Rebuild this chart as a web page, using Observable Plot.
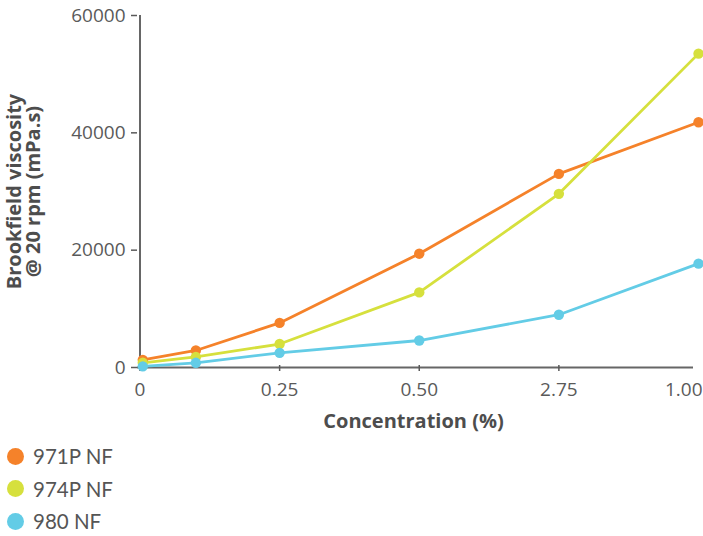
<!DOCTYPE html>
<html>
<head>
<meta charset="utf-8">
<script src="https://cdn.jsdelivr.net/npm/d3@7"></script>
<script src="https://cdn.jsdelivr.net/npm/@observablehq/plot@0.6"></script>
<style>
  body { margin: 0; background: #fff; font-family: Lato, "Open Sans", sans-serif; }
  .row { display: flex; align-items: center; height: 32.5px; color: #555; font-size: 20.5px; }
  .sw { width: 17px; height: 17px; border-radius: 50%; margin-left: 6.5px; margin-right: 9.5px; }
</style>
</head>
<body>
<div id="chart"></div>
<div id="legend"></div>
<script>
const concentration = [0.005, 0.1, 0.25, 0.5, 0.75, 1.0];
const seriesNames = ["971P NF", "974P NF", "980 NF"];
const v971P = [1300, 2900, 7600, 19400, 33000, 41800];
const v974P = [800, 1800, 4000, 12800, 29600, 53500];
const v980 = [200, 800, 2500, 4600, 9000, 17700];
const colors = ["#F5822A", "#D6E03D", "#63CCE6"];
const xTicks = [0, 0.25, 0.5, 0.75, 1.0];
const xTickLabels = ["0", "0.25", "0.50", "2.75", "1.00"];
const yTicks = [0, 20000, 40000, 60000];
const yTickLabels = ["0", "20000", "40000", "60000"];

const allValues = [v971P, v974P, v980];
const data = [];
seriesNames.forEach((s, si) => {
  concentration.forEach((c, i) => data.push({series: s, c, v: allValues[si][i]}));
});

const tickFont = "'Open Sans', Lato, sans-serif";
const plot = Plot.plot({
  width: 703,
  height: 440,
  marginLeft: 137,
  marginRight: 10,
  marginTop: 13,
  marginBottom: 75,
  style: {fontFamily: tickFont, fontSize: "19px", color: "#5a5a5a", background: "#fff"},
  x: {domain: [0, 1.0], range: [139.5, 698]},
  y: {domain: [0, 60000], range: [367, 15]},
  color: {domain: seriesNames, range: colors},
  marks: [
    Plot.ruleY([0], {stroke: "#666", strokeWidth: 2}),
    Plot.ruleX([0], {y1: 0, y2: 60000, stroke: "#666", strokeWidth: 2}),
    Plot.axisY({ticks: yTicks, tickFormat: d => yTickLabels[yTicks.indexOf(d)], tickSize: 6, tickPadding: 6, label: null, fontSize: 19, strokeWidth: 1.5}),
    Plot.axisX({ticks: xTicks.slice(0, 4), tickFormat: d => xTickLabels[xTicks.indexOf(d)], tickSize: 6, tickPadding: 11, label: null, fontSize: 19, strokeWidth: 1.5}),
    Plot.axisX({ticks: xTicks.slice(4), tickFormat: d => xTickLabels[xTicks.indexOf(d)], tickSize: 0, tickPadding: 17, textAnchor: "end", dx: 4, label: null, fontSize: 19}),
    Plot.line(data, {x: "c", y: "v", stroke: "series", strokeWidth: 2.8, z: "series"}),
    Plot.dot(data, {x: "c", y: "v", fill: "series", r: 5.2}),
    Plot.text(["Concentration (%)"], {frameAnchor: "bottom", textAnchor: "middle", lineAnchor: "middle", dy: 56, dx: -2, fontWeight: "bold", fontSize: 20, fill: "#4d4d4d", fontFamily: "'Open Sans', sans-serif"}),
    Plot.text(["Brookfield viscosity\n@ 20 rpm (mPa.s)"], {frameAnchor: "left", textAnchor: "middle", lineAnchor: "middle", rotate: -90, dx: -113, dy: 2, fontWeight: "bold", fontSize: 20, lineHeight: 0.95, fill: "#4d4d4d", fontFamily: "'Open Sans', sans-serif"})
  ]
});
document.getElementById("chart").appendChild(plot);

const legend = document.getElementById("legend");
seriesNames.forEach((s, i) => {
  const row = document.createElement("div");
  row.className = "row";
  const sw = document.createElement("span");
  sw.className = "sw";
  sw.style.background = colors[i];
  const t = document.createElement("span");
  t.textContent = s;
  row.appendChild(sw);
  row.appendChild(t);
  legend.appendChild(row);
});
</script>
</body>
</html>
